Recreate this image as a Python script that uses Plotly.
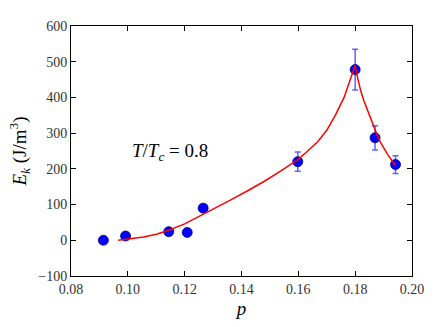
import plotly.graph_objects as go

# measured points
p_data = [0.0914, 0.0992, 0.1144, 0.1209, 0.1265, 0.1598, 0.1800, 0.1870, 0.1942]
ek_data = [0, 12, 24, 22, 90, 220, 478, 287, 212]
ek_err = [3, 3, 3, 3, 3, 27, 57, 34, 25]

# fitted curve
p_fit = [0.0966, 0.1000, 0.1056, 0.1100, 0.1144, 0.1200, 0.1249, 0.1301, 0.1364,
         0.1420, 0.1482, 0.1540, 0.1598, 0.1630, 0.1668, 0.1700, 0.1730, 0.1761,
         0.1775, 0.1790, 0.1800, 0.1810, 0.1819, 0.1831, 0.1843, 0.1855, 0.1866,
         0.1878, 0.1889, 0.1901, 0.1913, 0.1927, 0.1942]
ek_fit = [0, 3, 9, 17, 28, 46, 66, 87, 114, 138, 166, 195, 226, 248, 276, 308,
          350, 400, 432, 465, 490, 450, 420, 390, 364, 338, 314, 293, 274, 257,
          242, 226, 210]

x_ticks = [0.08, 0.10, 0.12, 0.14, 0.16, 0.18, 0.20]
y_ticks = [-100, 0, 100, 200, 300, 400, 500, 600]

FONT = "Liberation Serif, Times New Roman, serif"

fig = go.Figure()
fig.add_trace(go.Scatter(
    x=p_data, y=ek_data, mode="markers",
    marker=dict(color="#0000ff", size=10, line=dict(color="#00007a", width=0.8)),
    error_y=dict(type="data", array=ek_err, visible=True,
                 color="rgba(30,30,255,0.7)", thickness=1.5, width=3),
    showlegend=False))
fig.add_trace(go.Scatter(
    x=p_fit, y=ek_fit, mode="lines", line=dict(color="#ff0000", width=1.5),
    showlegend=False))

axis_common = dict(showgrid=False, zeroline=False, showline=True, linecolor="black",
                   linewidth=1, mirror="ticks", ticks="inside", ticklen=5,
                   tickcolor="black", tickfont=dict(family=FONT, size=14, color="#333"))

fig.update_xaxes(range=[0.08, 0.20], tickvals=x_ticks,
                 ticktext=[f"{v:.2f}" for v in x_ticks],
                 title=dict(text="<i>p</i>", font=dict(family=FONT, size=19, color="black"), standoff=5),
                 **axis_common)
fig.update_yaxes(range=[-100, 600], tickvals=y_ticks,
                 title=dict(text="<i>E<sub>k</sub></i> (J/m<sup>3</sup>)",
                            font=dict(family=FONT, size=19, color="black"), standoff=6),
                 **axis_common)

fig.add_annotation(x=0.115, y=246, xref="x", yref="y", showarrow=False,
                   text="<i>T</i>/<i>T<sub>c</sub></i> = 0.8",
                   font=dict(family=FONT, size=19, color="black"))

fig.update_layout(width=436, height=327, plot_bgcolor="white", paper_bgcolor="white",
                  margin=dict(l=71, r=21, t=26, b=42))

fig.write_html("out.html", config={"displayModeBar": False},
               post_script="document.body.style.margin='0';document.body.style.overflow='hidden';")
